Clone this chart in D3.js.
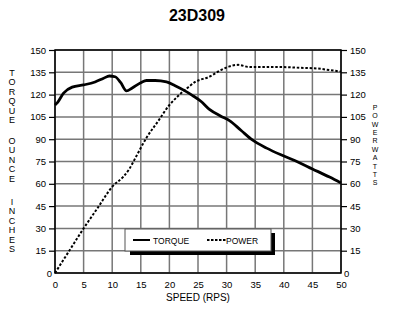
<!DOCTYPE html>
<html><head><meta charset="utf-8">
<script src="https://cdn.jsdelivr.net/npm/d3@7"></script>
<style>
html,body{margin:0;padding:0;background:#fff;}
svg{display:block;font-family:"Liberation Sans",Arial,sans-serif;}
</style></head>
<body><svg id="c" width="393" height="313"></svg>
<script>
const title = "23D309";
const xTicks = [0,5,10,15,20,25,30,35,40,45,50];
const yTicks = [0,15,30,45,60,75,90,105,120,135,150];
const torqueSpeed = [0,0.5,1.5,3,5,7,8.5,9.5,10.5,11.5,12.5,13.5,15,16,17.5,19.5,21,22.5,24,25.5,27,29,30.5,32.5,34.5,37,39.5,42,45,48,50];
const torqueValues = [113,115,121,125,126.5,128.5,131,132.5,132,128,122.5,124.5,128,129.5,129.5,128.5,126,123,119.5,115.5,110,105.5,102.5,96,89.5,84,79.5,75.5,70,64.5,60.5];
const powerSpeed = [0,2.5,5,7.5,10,12,13,14,16,18,20,21.5,23,24.5,27,29,30.5,32,34,37,40,43,46,48,50];
const powerValues = [0,15,30,44,58,65,70,77,91,102,113,119,124,128.5,132,136.5,139,140,138.5,138.5,138.5,138,137.5,136.5,135.5];
const leftTitle = ["TORQUE","OUNCE","INCHES"];
const rightTitle = ["POWER","WATTS"];
const xTitle = "SPEED (RPS)";

const svg = d3.select("#c");
const L=55,R=341,T=50,B=273;
const x = d3.scaleLinear().domain([0,50]).range([L,R]);
const y = d3.scaleLinear().domain([0,150]).range([B,T]);

svg.append("text").attr("x",197).attr("y",21).attr("text-anchor","middle")
  .attr("font-size",16).attr("font-weight","bold").text(title);

// grid
const g = svg.append("g");
g.selectAll(".vg").data(xTicks).join("line")
  .attr("x1",d=>x(d)).attr("x2",d=>x(d)).attr("y1",T).attr("y2",B)
  .attr("stroke","#777").attr("stroke-width",1.5);
g.selectAll(".hg").data(yTicks).join("line")
  .attr("x1",L).attr("x2",R).attr("y1",d=>y(d)).attr("y2",d=>y(d))
  .attr("stroke","#777").attr("stroke-width",1.5);

// axes
const ax = svg.append("g").attr("transform",`translate(0,${B})`)
  .call(d3.axisBottom(x).tickValues(xTicks).tickSize(0).tickPadding(8));
const ayl = svg.append("g").attr("transform",`translate(${L},0)`)
  .call(d3.axisLeft(y).tickValues(yTicks).tickSize(6).tickPadding(3));
const ayr = svg.append("g").attr("transform",`translate(${R},0)`)
  .call(d3.axisRight(y).tickValues(yTicks).tickSize(6).tickPadding(3));
[ax,ayl,ayr].forEach(a=>{
  a.select(".domain").remove();
  a.selectAll("text").attr("font-size",9.5).attr("fill","#000").attr("font-family","Liberation Sans, Arial, sans-serif");
  a.selectAll("line").attr("stroke","#000").attr("stroke-width",1.2);
});
ayl.selectAll(".tick").filter(d=>d===0).select("line").remove();
ayl.selectAll(".tick").filter(d=>d===0).select("text").attr("x",-3);
ayr.selectAll(".tick").filter(d=>d===0).select("line").remove();
ayr.selectAll(".tick").filter(d=>d===0).select("text").attr("x",3);

// frame
svg.append("rect").attr("x",L).attr("y",T).attr("width",R-L).attr("height",B-T)
  .attr("fill","none").attr("stroke","#000").attr("stroke-width",1.5);

// lines
const line = d3.line().curve(d3.curveMonotoneX);
svg.append("path").attr("d",line(powerSpeed.map((s,i)=>[x(s),y(powerValues[i])])))
  .attr("fill","none").attr("stroke","#000").attr("stroke-width",2).attr("stroke-dasharray","2.5,1.8");
svg.append("path").attr("d",line(torqueSpeed.map((s,i)=>[x(s),y(torqueValues[i])])))
  .attr("fill","none").attr("stroke","#000").attr("stroke-width",2.8);

// legend
const lg = svg.append("g");
lg.append("rect").attr("x",130).attr("y",233).attr("width",145).attr("height",22).attr("fill","#000");
lg.append("rect").attr("x",125).attr("y",229).attr("width",146).attr("height",22)
  .attr("fill","#fff").attr("stroke","#555").attr("stroke-width",1);
lg.append("line").attr("x1",133).attr("x2",150).attr("y1",240).attr("y2",240).attr("stroke","#000").attr("stroke-width",2);
lg.append("text").attr("x",153).attr("y",243.5).attr("font-size",8.5).text("TORQUE");
lg.append("line").attr("x1",207).attr("x2",226).attr("y1",240).attr("y2",240).attr("stroke","#000").attr("stroke-width",2).attr("stroke-dasharray","2.5,1.5");
lg.append("text").attr("x",226).attr("y",243.5).attr("font-size",8.5).text("POWER");

// axis titles
svg.append("text").attr("x",198).attr("y",301).attr("text-anchor","middle").attr("font-size",10).text(xTitle);
const leftStarts=[76,144,205];
leftTitle.forEach((w,wi)=>{
  w.split("").forEach((ch,ci)=>{
    svg.append("text").attr("x",12).attr("y",leftStarts[wi]+ci*9.4).attr("text-anchor","middle").attr("font-size",9).text(ch);
  });
});
const rightStarts=[110,152];
rightTitle.forEach((w,wi)=>{
  w.split("").forEach((ch,ci)=>{
    svg.append("text").attr("x",375).attr("y",rightStarts[wi]+ci*8.3).attr("text-anchor","middle").attr("font-size",7).text(ch);
  });
});
</script></body></html>
